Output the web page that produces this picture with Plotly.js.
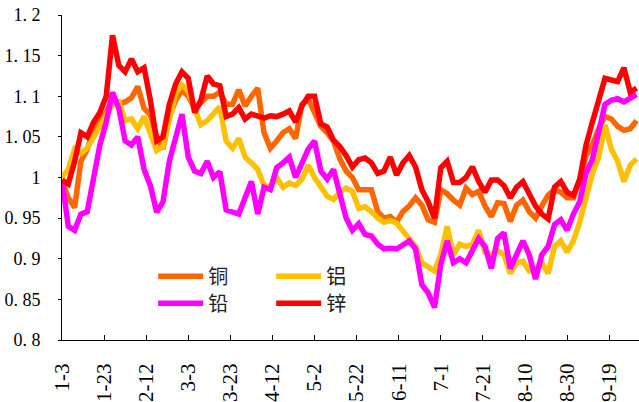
<!DOCTYPE html>
<html>
<head>
<meta charset="utf-8">
<script src="https://cdn.plot.ly/plotly-3.0.1.min.js"></script>
<style>html,body{margin:0;padding:0;background:#fff;}</style>
</head>
<body>
<div id="chart" style="width:639px;height:402px;"></div>
<script>
const dates = [
'2016-01-03','2016-01-06','2016-01-09','2016-01-12','2016-01-15','2016-01-18','2016-01-21','2016-01-24','2016-01-27','2016-01-30',
'2016-02-02','2016-02-05','2016-02-08','2016-02-11','2016-02-14','2016-02-17','2016-02-20','2016-02-23','2016-02-26','2016-02-29',
'2016-03-03','2016-03-06','2016-03-09','2016-03-12','2016-03-15','2016-03-18','2016-03-21','2016-03-24','2016-03-27','2016-03-30',
'2016-04-02','2016-04-05','2016-04-08','2016-04-11','2016-04-14','2016-04-17','2016-04-20','2016-04-23','2016-04-26','2016-04-29',
'2016-05-02','2016-05-05','2016-05-08','2016-05-11','2016-05-14','2016-05-17','2016-05-20','2016-05-23','2016-05-26','2016-05-29',
'2016-06-01','2016-06-04','2016-06-07','2016-06-10','2016-06-13','2016-06-16','2016-06-19','2016-06-22','2016-06-25','2016-06-28',
'2016-07-01','2016-07-04','2016-07-07','2016-07-10','2016-07-13','2016-07-16','2016-07-19','2016-07-22','2016-07-25','2016-07-28',
'2016-07-31','2016-08-03','2016-08-06','2016-08-09','2016-08-12','2016-08-15','2016-08-18','2016-08-21','2016-08-24','2016-08-27',
'2016-08-30','2016-09-02','2016-09-05','2016-09-08','2016-09-11','2016-09-14','2016-09-17','2016-09-20','2016-09-23','2016-09-26',
'2016-09-29','2016-10-02'
];

const copper = [
0.995,0.975,0.963,1.02,1.035,1.058,1.07,1.08,1.097,1.09,
1.093,1.098,1.112,1.085,1.077,1.05,1.035,1.075,1.095,1.107,
1.1,1.085,1.092,1.1,1.1,1.105,1.09,1.09,1.108,1.088,
1.1,1.11,1.055,1.036,1.045,1.055,1.06,1.048,1.09,1.097,
1.08,1.063,1.055,1.045,1.023,1.008,1.0,0.985,0.985,0.985,
0.958,0.95,0.952,0.945,0.958,0.965,0.975,0.966,0.948,0.945,
0.985,0.98,0.972,0.966,0.987,0.979,0.983,0.965,0.952,0.969,
0.968,0.946,0.966,0.972,0.958,0.95,0.965,0.978,0.985,0.982,
0.975,0.975,0.997,1.027,1.04,1.06,1.075,1.072,1.063,1.058,
1.06,1.07
];

const aluminum = [
1.0,1.01,1.035,1.03,1.036,1.05,1.062,1.075,1.09,1.093,
1.07,1.072,1.06,1.075,1.055,1.033,1.038,1.075,1.104,1.114,
1.106,1.085,1.065,1.07,1.078,1.087,1.045,1.036,1.048,1.025,
1.018,1.01,0.99,0.988,1.0,0.988,0.993,0.99,0.998,1.015,
1.0,0.988,0.977,0.973,0.982,0.987,0.983,0.962,0.964,0.958,
0.95,0.945,0.947,0.944,0.935,0.926,0.915,0.895,0.889,0.885,
0.905,0.94,0.905,0.918,0.915,0.918,0.935,0.908,0.905,0.91,
0.905,0.882,0.895,0.897,0.885,0.888,0.895,0.882,0.915,0.922,
0.908,0.922,0.945,0.978,1.005,1.025,1.065,1.035,1.02,0.995,
1.015,1.023
];

const lead = [
0.997,0.94,0.935,0.955,0.958,1.0,1.04,1.068,1.105,1.085,
1.045,1.04,1.05,1.01,0.99,0.957,0.97,1.02,1.05,1.078,
1.025,1.008,1.005,1.02,1.0,1.007,0.96,0.958,0.955,0.975,
0.995,0.955,0.988,0.985,1.012,1.018,1.025,1.0,1.018,1.035,
1.045,1.008,0.998,1.01,0.98,0.95,0.935,0.943,0.93,0.928,
0.918,0.912,0.913,0.912,0.917,0.922,0.912,0.868,0.858,0.84,
0.893,0.922,0.895,0.9,0.895,0.91,0.925,0.915,0.888,0.925,
0.932,0.888,0.907,0.922,0.905,0.875,0.905,0.915,0.942,0.948,
0.935,0.955,0.97,1.005,1.022,1.06,1.09,1.095,1.097,1.093,
1.098,1.102
];

const zinc = [
0.997,0.992,1.02,1.055,1.05,1.068,1.08,1.1,1.175,1.138,
1.13,1.146,1.13,1.135,1.095,1.045,1.05,1.09,1.115,1.13,
1.122,1.08,1.095,1.125,1.115,1.113,1.075,1.078,1.086,1.072,
1.078,1.075,1.073,1.076,1.075,1.078,1.082,1.068,1.088,1.1,
1.1,1.066,1.062,1.046,1.038,1.027,1.013,1.022,1.024,1.018,
1.005,1.008,1.025,1.003,1.018,1.027,1.013,0.985,0.97,0.95,
1.012,1.02,0.994,0.994,1.0,1.013,0.995,0.982,0.997,0.997,
0.99,0.975,0.988,0.995,0.978,0.965,0.955,0.949,0.988,0.995,
0.982,0.978,0.998,1.04,1.068,1.095,1.122,1.12,1.118,1.135,
1.105,1.11
];

const seriesNames = ['铜','铝','铅','锌'];
const seriesColors = ['#FF6600','#FFC000','#FF00FF','#FF0000'];
const xTickDates = ['2016-01-03','2016-01-23','2016-02-12','2016-03-03','2016-03-23','2016-04-12','2016-05-02','2016-05-22','2016-06-11','2016-07-01','2016-07-21','2016-08-10','2016-08-30','2016-09-19'];
const xTickLabels = ['1-3','1-23','2-12','3-3','3-23','4-12','5-2','5-22','6-11','7-1','7-21','8-10','8-30','9-19'];
const yTickVals = [0.8,0.85,0.9,0.95,1.0,1.05,1.1,1.15,1.2];
const yTickLabels = ['0.\u00a08','0.\u00a085','0.\u00a09','0.\u00a095','1','1.\u00a005','1.\u00a01','1.\u00a015','1.\u00a02'];

const serif = '"Liberation Serif", "Times New Roman", serif';
const allSeries = [copper, aluminum, lead, zinc];
const legendIds = ['legend','legend','legend2','legend2'];

const traces = allSeries.map((vals, k) => ({
  type: 'scatter',
  mode: 'lines',
  x: dates,
  y: vals,
  name: seriesNames[k],
  legend: legendIds[k],
  line: {color: seriesColors[k], width: 5.5},
  hoverinfo: 'skip'
}));

const legendCommon = {
  orientation: 'h',
  xanchor: 'left',
  yanchor: 'top',
  x: 0.158,
  bgcolor: 'rgba(0,0,0,0)',
  borderwidth: 0,
  entrywidth: 58,
  entrywidthmode: 'pixels',
  itemwidth: 45,
  font: {family: '"Noto Sans CJK SC", sans-serif', size: 20, color: '#222'}
};

const layout = {
  width: 639,
  height: 402,
  margin: {l: 62, r: 0, t: 15, b: 62, pad: 0},
  paper_bgcolor: '#ffffff',
  plot_bgcolor: '#ffffff',
  showlegend: true,
  legend: Object.assign({}, legendCommon, {y: 0.256}),
  legend2: Object.assign({}, legendCommon, {y: 0.173}),
  xaxis: {
    type: 'date',
    range: ['2016-01-03', '2016-10-03 04:00'],
    tickmode: 'array',
    tickvals: xTickDates,
    ticktext: xTickLabels,
    tickangle: -90,
    ticks: 'inside',
    ticklen: 5,
    tickcolor: '#000',
    showline: true,
    linecolor: '#000',
    linewidth: 1,
    showgrid: false,
    zeroline: false,
    ticklabelstandoff: 14,
    tickfont: {family: serif, size: 21, color: '#000'}
  },
  yaxis: {
    range: [0.8, 1.2],
    tickmode: 'array',
    tickvals: yTickVals,
    ticktext: yTickLabels,
    ticks: 'outside',
    ticklen: 3,
    tickcolor: '#000',
    showline: true,
    linecolor: '#000',
    linewidth: 1,
    showgrid: false,
    zeroline: false,
    ticklabelstandoff: 14,
    tickfont: {family: serif, size: 18, color: '#000'}
  }
};

Plotly.newPlot('chart', traces, layout, {staticPlot: true, displayModeBar: false});
</script>
</body>
</html>
